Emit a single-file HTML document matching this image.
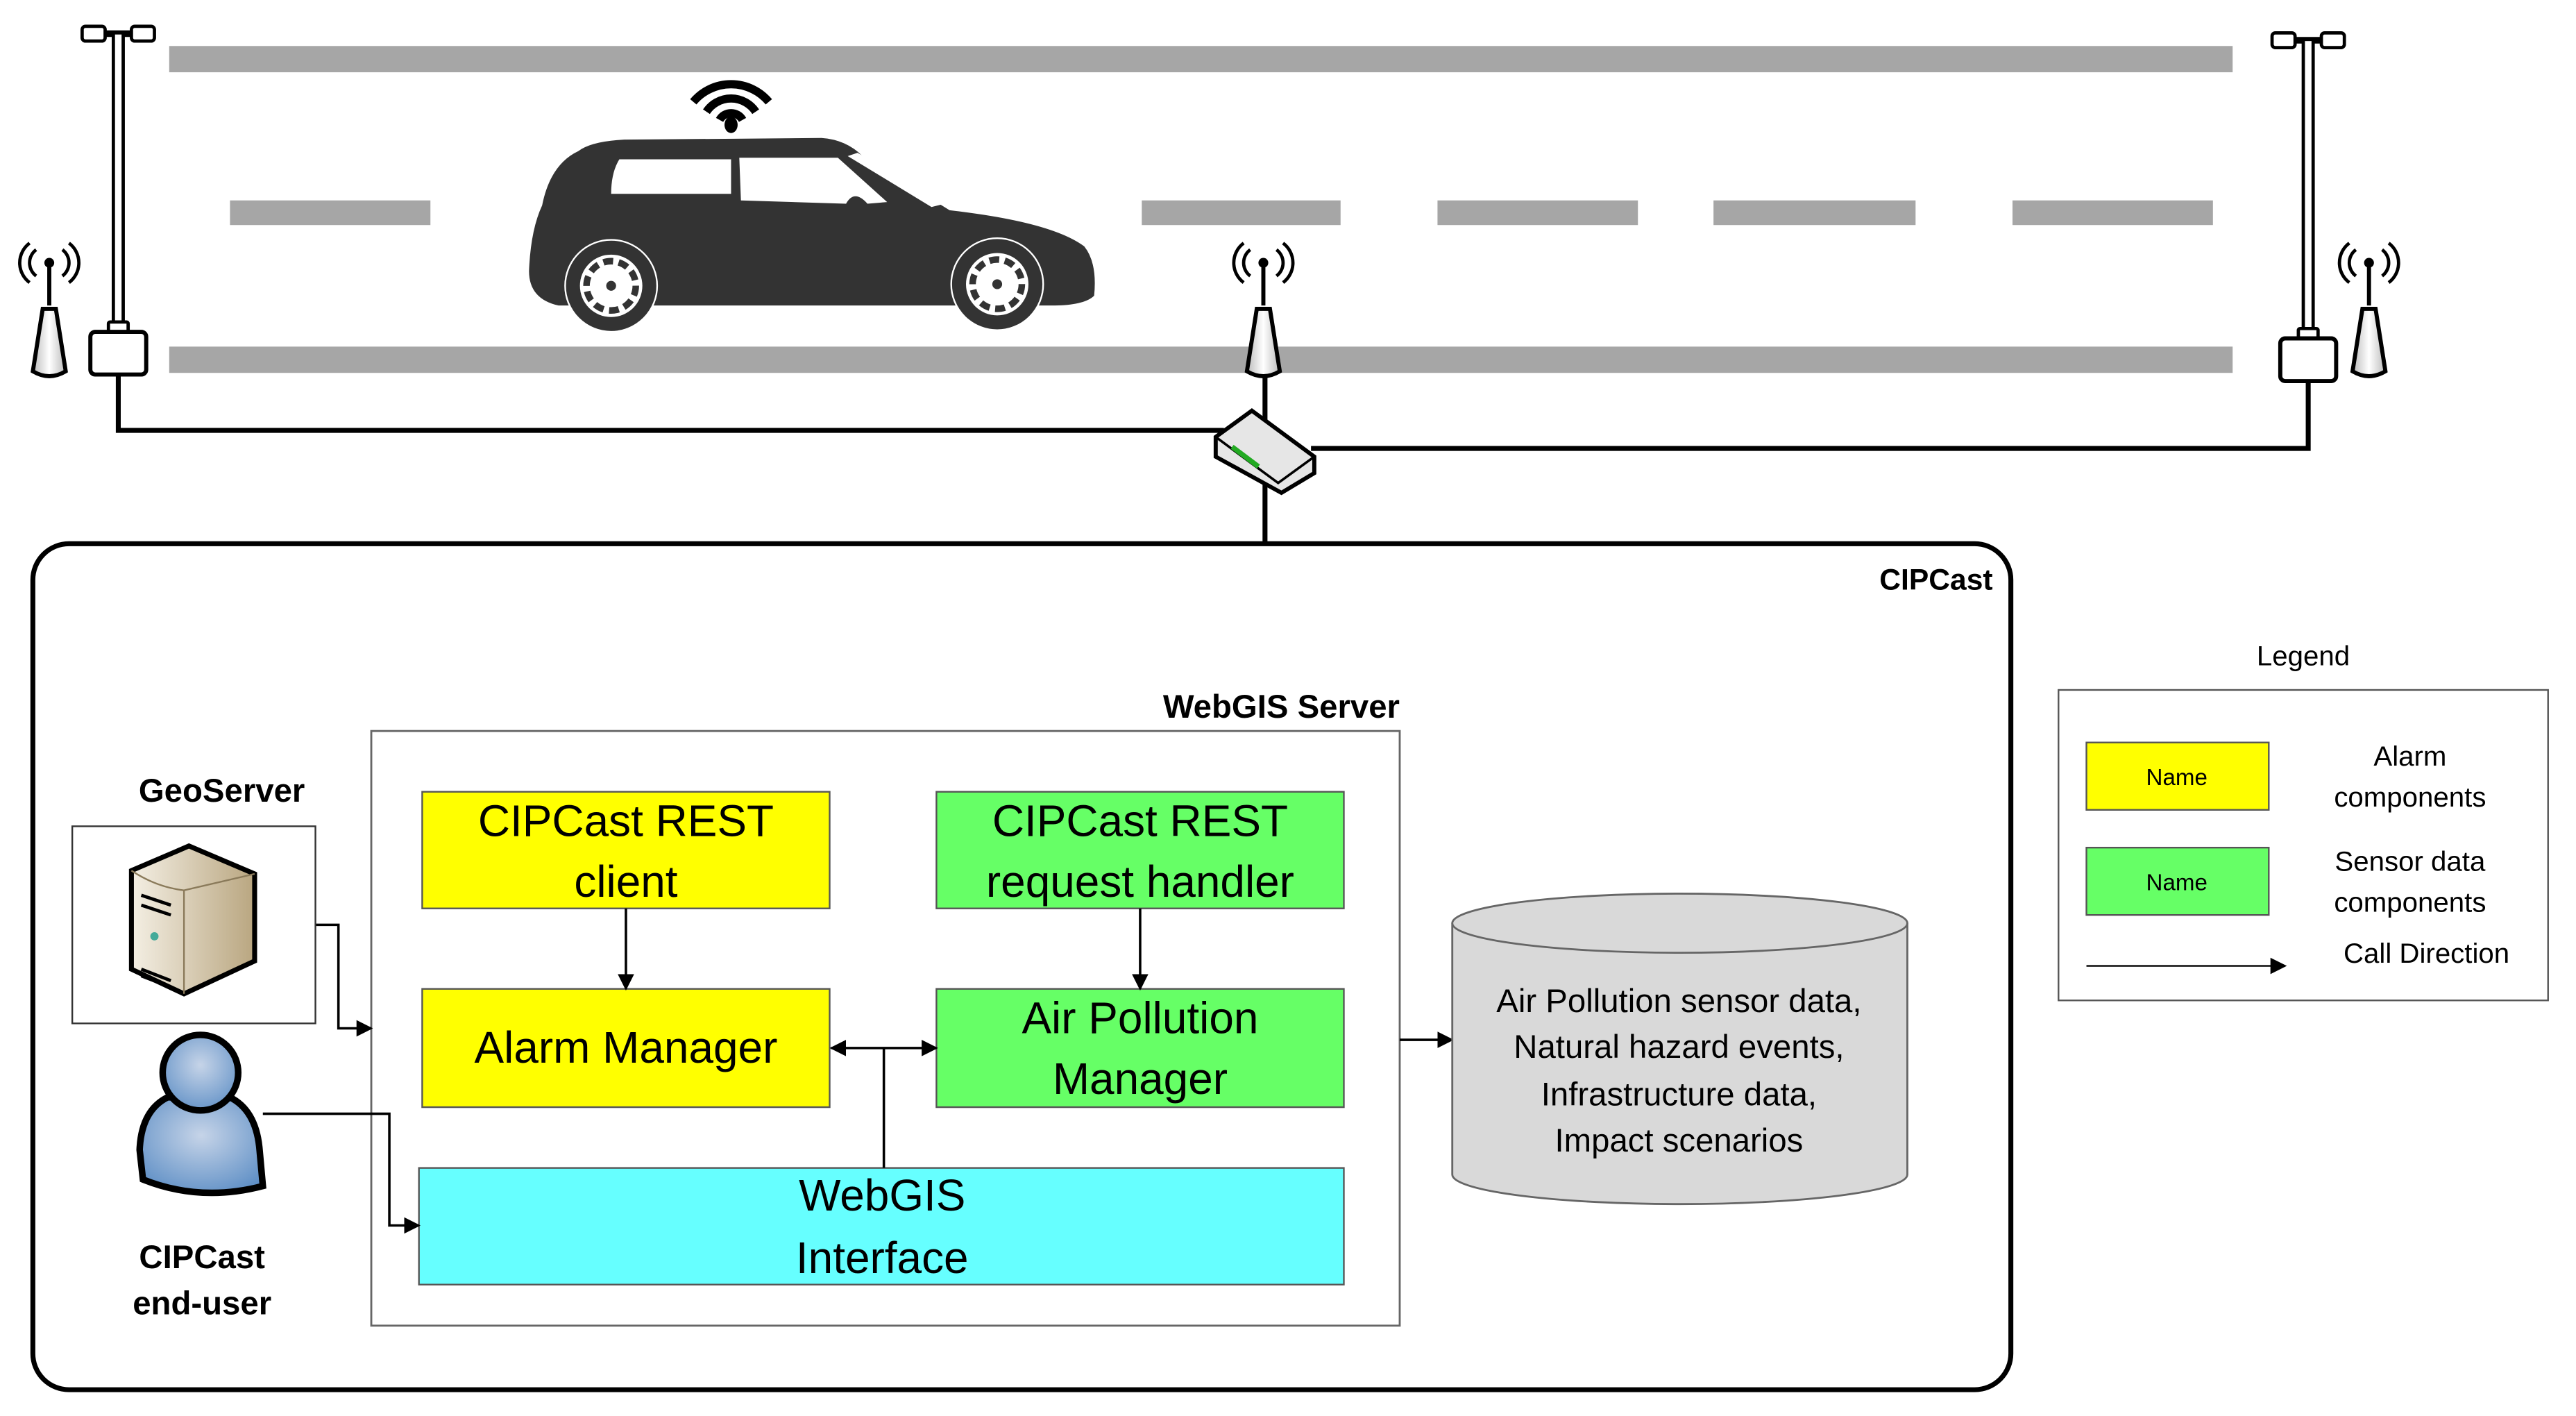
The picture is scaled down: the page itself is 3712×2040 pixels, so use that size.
<!DOCTYPE html>
<html><head><meta charset="utf-8"><style>html,body{margin:0;padding:0;background:#fff}svg{display:block}text{font-family:"Liberation Sans","DejaVu Sans",sans-serif}</style></head><body>
<svg width="3712" height="2040" viewBox="0 0 1568 862" preserveAspectRatio="none" xmlns="http://www.w3.org/2000/svg">
<defs>
<marker id="ar" markerWidth="10" markerHeight="10" refX="9" refY="5" orient="auto" markerUnits="userSpaceOnUse"><path d="M0,0 L10,5 L0,10 z" fill="#000"/></marker>
<marker id="al" markerWidth="10" markerHeight="10" refX="1" refY="5" orient="auto" markerUnits="userSpaceOnUse"><path d="M10,0 L0,5 L10,10 z" fill="#000"/></marker>
<linearGradient id="ant" x1="0" x2="1"><stop offset="0" stop-color="#bbb"/><stop offset=".5" stop-color="#fff"/><stop offset="1" stop-color="#bbb"/></linearGradient>
<radialGradient id="usr" cx=".5" cy=".4" r=".7"><stop offset="0" stop-color="#c6d4e8"/><stop offset="1" stop-color="#5a8cc4"/></radialGradient>
<linearGradient id="srv" x1="0" x2="1"><stop offset="0" stop-color="#f4efe4"/><stop offset="1" stop-color="#b9a680"/></linearGradient>
<g id="antenna">
<path d="M-8,-12 a10,10 0 0 0 0,16 M8,-12 a10,10 0 0 1 0,16 M-12,-16 a15,15 0 0 0 0,24 M12,-16 a15,15 0 0 1 0,24" fill="none" stroke="#000" stroke-width="2"/>
<circle cx="0" cy="-4" r="3" fill="#000"/>
<line x1="0" y1="-4" x2="0" y2="22" stroke="#000" stroke-width="2.5"/>
<path d="M-4,24 L4,24 L10,62 Q0,68 -10,62 Z" fill="url(#ant)" stroke="#000" stroke-width="2.5"/>
</g>
<g id="lamp">
<rect x="-22" y="0" width="14" height="9" rx="2" fill="#fff" stroke="#000" stroke-width="2"/>
<rect x="8" y="0" width="14" height="9" rx="2" fill="#fff" stroke="#000" stroke-width="2"/>
<line x1="-8" y1="4.5" x2="8" y2="4.5" stroke="#000" stroke-width="4"/>
<rect x="-3" y="4" width="6" height="178" fill="#fff" stroke="#000" stroke-width="2"/>
<rect x="-6" y="180" width="12" height="6" rx="1" fill="#fff" stroke="#000" stroke-width="2"/>
<rect x="-17" y="186" width="34" height="26" rx="3" fill="#fff" stroke="#000" stroke-width="2.5"/>
</g>
</defs>
<!-- road -->
<rect x="103" y="28" width="1256" height="16" fill="#a6a6a6"/>
<rect x="103" y="211" width="1256" height="16" fill="#a6a6a6"/>
<g fill="#a6a6a6"><rect x="140" y="122" width="122" height="15"/><rect x="695" y="122" width="121" height="15"/><rect x="875" y="122" width="122" height="15"/><rect x="1043" y="122" width="123" height="15"/><rect x="1225" y="122" width="122" height="15"/></g>
<!-- network lines -->
<polyline points="72,224 72,262 745,262" fill="none" stroke="#000" stroke-width="3"/>
<polyline points="1405,228 1405,273 798,273" fill="none" stroke="#000" stroke-width="3"/>
<line x1="770" y1="225" x2="770" y2="332" stroke="#000" stroke-width="3"/>
<use href="#lamp" x="72" y="16"/>
<use href="#lamp" x="1405" y="20"/>
<use href="#antenna" x="30" y="164"/>
<use href="#antenna" x="769" y="164"/>
<use href="#antenna" x="1442" y="164"/>
<!-- router -->
<path d="M740,266 L762,250 L800,278 L800,288 L780,300 L740,278 Z" fill="#e6e6e6" stroke="#000" stroke-width="2.5"/>
<path d="M740,266 L778,294 L800,278" fill="none" stroke="#000" stroke-width="1.5"/>
<path d="M750,272 L766,284" stroke="#2a2" stroke-width="3"/>
<!-- car -->
<path d="M352,92 Q360,86 380,85 L500,84 Q515,85 525,95 L578,128 Q640,135 660,150 Q668,160 666,180 Q660,186 640,186 L340,186 Q322,182 322,165 Q323,140 330,125 Q335,100 352,92 Z" fill="#333"/>
<path d="M377,97 L445,97 L445,118 L372,118 Q372,105 377,97 Z" fill="#fff"/>
<path d="M450,96 L510,96 L540,123 L528,124 Q520,115 515,124 L451,122 Z" fill="#fff"/>
<path d="M516,95 L522,93 L575,124 L567,126 Z" fill="#fff"/>
<g><circle cx="372" cy="174" r="28" fill="#333" stroke="#fff" stroke-width="1"/><circle cx="372" cy="174" r="19" fill="#fff"/><circle cx="372" cy="174" r="15" fill="none" stroke="#333" stroke-width="4" stroke-dasharray="6 3.4"/><circle cx="372" cy="174" r="3" fill="#333"/></g>
<g><circle cx="607" cy="173" r="28" fill="#333" stroke="#fff" stroke-width="1"/><circle cx="607" cy="173" r="19" fill="#fff"/><circle cx="607" cy="173" r="15" fill="none" stroke="#333" stroke-width="4" stroke-dasharray="6 3.4"/><circle cx="607" cy="173" r="3" fill="#333"/></g>
<!-- wifi -->
<path d="M422,62 a30,30 0 0 1 46,0 M430,68 a18,18 0 0 1 30,0 M438,73 a8,8 0 0 1 14,0" fill="none" stroke="#000" stroke-width="5"/>
<ellipse cx="445" cy="76" rx="4" ry="5" fill="#000"/>
<!-- CIPCast box -->
<rect x="20" y="331" width="1204" height="515" rx="22" fill="none" stroke="#000" stroke-width="3"/>
<text x="1213" y="359" text-anchor="end" font-size="18" font-weight="bold">CIPCast</text>
<!-- WebGIS server -->
<rect x="226" y="445" width="626" height="362" fill="none" stroke="#666" stroke-width="1.2"/>
<text x="852" y="437" text-anchor="end" font-size="20" font-weight="bold">WebGIS Server</text>
<g stroke="#555" stroke-width="1">
<rect x="257" y="482" width="248" height="71" fill="#ffff00"/>
<rect x="257" y="602" width="248" height="72" fill="#ffff00"/>
<rect x="570" y="482" width="248" height="71" fill="#66ff66"/>
<rect x="570" y="602" width="248" height="72" fill="#66ff66"/>
<rect x="255" y="711" width="563" height="71" fill="#66ffff"/>
</g>
<g font-size="27" text-anchor="middle">
<text x="381" y="509">CIPCast REST</text><text x="381" y="546">client</text>
<text x="381" y="647">Alarm Manager</text>
<text x="694" y="509">CIPCast REST</text><text x="694" y="546">request handler</text>
<text x="694" y="629">Air Pollution</text><text x="694" y="666">Manager</text>
<text x="537" y="737">WebGIS</text><text x="537" y="775">Interface</text>
</g>
<g stroke="#000" stroke-width="1.5" fill="none">
<line x1="381" y1="553" x2="381" y2="602" marker-end="url(#ar)"/>
<line x1="694" y1="553" x2="694" y2="602" marker-end="url(#ar)"/>
<line x1="506" y1="638" x2="570" y2="638" marker-start="url(#al)" marker-end="url(#ar)"/>
<line x1="538" y1="638" x2="538" y2="711"/>
<polyline points="192,563 206,563 206,626 226,626" marker-end="url(#ar)"/>
<polyline points="160,678 237,678 237,746 255,746" marker-end="url(#ar)"/>
<line x1="852" y1="633" x2="884" y2="633" marker-end="url(#ar)"/>
</g>
<!-- GeoServer -->
<rect x="44" y="503" width="148" height="120" fill="none" stroke="#333" stroke-width="1"/>
<text x="135" y="488" text-anchor="middle" font-size="20" font-weight="bold">GeoServer</text>
<path d="M80,530 L115,515 L155,532 L155,585 L112,605 L80,590 Z" fill="url(#srv)" stroke="#000" stroke-width="3"/>
<path d="M80,530 Q95,540 112,542 L155,532 M112,542 L112,605" fill="none" stroke="#8a7a5a" stroke-width="1"/>
<path d="M86,545 L104,551 M86,551 L104,557 M86,590 L104,597 M86,594 L104,601" stroke="#000" stroke-width="2"/>
<circle cx="94" cy="570" r="2.5" fill="#4a9"/>
<!-- user -->
<path d="M102,668 Q86,676 85,700 L87,718 Q122,732 160,722 L158,700 Q156,676 140,668 Z" fill="url(#usr)" stroke="#000" stroke-width="4"/>
<circle cx="122" cy="653" r="23" fill="url(#usr)" stroke="#000" stroke-width="4"/>
<text x="123" y="772" text-anchor="middle" font-size="20" font-weight="bold">CIPCast</text>
<text x="123" y="800" text-anchor="middle" font-size="20" font-weight="bold">end-user</text>
<!-- cylinder -->
<path d="M884,562 L884,715 A138.5,18 0 0 0 1161,715 L1161,562" fill="#d9d9d9" stroke="#666" stroke-width="1.2"/>
<ellipse cx="1022.5" cy="562" rx="138.5" ry="18" fill="#d9d9d9" stroke="#666" stroke-width="1.2"/>
<g font-size="20" text-anchor="middle">
<text x="1022" y="616">Air Pollution sensor data,</text>
<text x="1022" y="644">Natural hazard events,</text>
<text x="1022" y="673">Infrastructure data,</text>
<text x="1022" y="701">Impact scenarios</text>
</g>
<!-- legend -->
<text x="1402" y="405" text-anchor="middle" font-size="17">Legend</text>
<rect x="1253" y="420" width="298" height="189" fill="none" stroke="#555" stroke-width="1"/>
<rect x="1270" y="452" width="111" height="41" fill="#ffff00" stroke="#555" stroke-width="1"/>
<rect x="1270" y="516" width="111" height="41" fill="#66ff66" stroke="#555" stroke-width="1"/>
<text x="1325" y="478" text-anchor="middle" font-size="14">Name</text>
<text x="1325" y="542" text-anchor="middle" font-size="14">Name</text>
<g font-size="17" text-anchor="middle">
<text x="1467" y="466">Alarm</text><text x="1467" y="491">components</text>
<text x="1467" y="530">Sensor data</text><text x="1467" y="555">components</text>
<text x="1477" y="586">Call Direction</text>
</g>
<line x1="1270" y1="588" x2="1391" y2="588" stroke="#000" stroke-width="1" marker-end="url(#ar)"/>
</svg>
</body></html>
